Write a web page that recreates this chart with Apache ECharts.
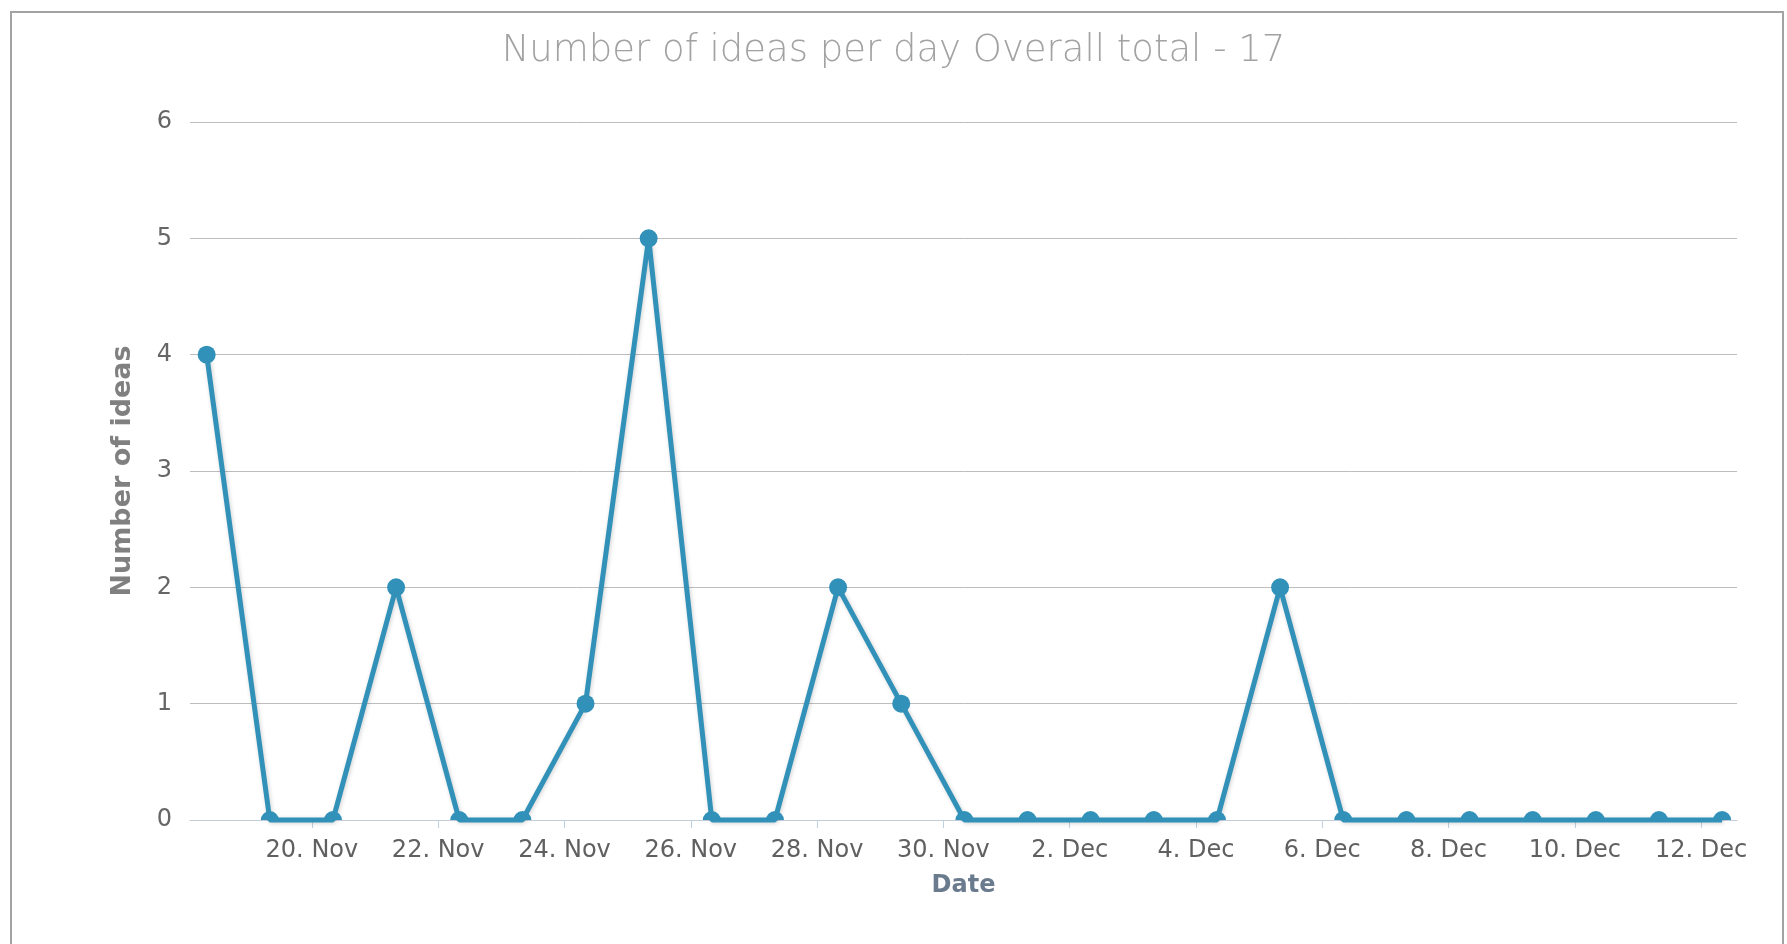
<!DOCTYPE html>
<html>
<head>
<meta charset="utf-8">
<script src="https://cdn.jsdelivr.net/npm/echarts@6/dist/echarts.min.js"></script>
<style>
html,body{margin:0;padding:0;background:#fff;}
#chart{width:1787px;height:944px;}
</style>
</head>
<body>
<div id="chart"></div>
<script>
// ---- data ----
const titleText = 'Number of ideas per day Overall total - 17';
const dates = ['2013-11-18','2013-11-19','2013-11-20','2013-11-21','2013-11-22','2013-11-23','2013-11-24',
  '2013-11-25','2013-11-26','2013-11-27','2013-11-28','2013-11-29','2013-11-30','2013-12-01','2013-12-02',
  '2013-12-03','2013-12-04','2013-12-05','2013-12-06','2013-12-07','2013-12-08','2013-12-09','2013-12-10',
  '2013-12-11','2013-12-12'];
const pointHour = '08:00';
const ideas = [4,0,0,2,0,0,1,5,0,0,2,1,0,0,0,0,0,2,0,0,0,0,0,0,0];
const tickDates = ['2013-11-20','2013-11-22','2013-11-24','2013-11-26','2013-11-28','2013-11-30',
  '2013-12-02','2013-12-04','2013-12-06','2013-12-08','2013-12-10','2013-12-12'];
const tickLabels = ['20. Nov','22. Nov','24. Nov','26. Nov','28. Nov','30. Nov',
  '2. Dec','4. Dec','6. Dec','8. Dec','10. Dec','12. Dec'];
const yTicks = [0,1,2,3,4,5,6];
const axisMinTime = '2013-11-18T01:40:00Z';
const axisMaxTime = '2013-12-12T13:40:00Z';

// ---- build ----
const ts = s => Date.parse(s);
const tickTs = tickDates.map(d => ts(d + 'T00:00:00Z'));
const halfCircle = 'path://M0,10A10,10,0,0,1,20,10Z';
const seriesData = dates.map((d, i) => {
  const item = { value: [ts(d + 'T' + pointHour + ':00Z'), ideas[i]] };
  if (ideas[i] === 0) {
    item.symbol = halfCircle;
    item.symbolSize = [18, 9];
    item.symbolOffset = [0, '-50%'];
  }
  return item;
});

const chart = echarts.init(document.getElementById('chart'), null, {renderer: 'canvas'});
chart.setOption({
  animation: false,
  backgroundColor: '#ffffff',
  graphic: [{
    type: 'rect',
    shape: {x: 11, y: 12, width: 1772, height: 960},
    style: {fill: 'none', stroke: '#a3a3a3', lineWidth: 2},
    silent: true,
    z: -1
  }],
  title: {
    text: titleText,
    left: 'center',
    top: 28,
    textStyle: {
      fontFamily: 'DejaVu Sans',
      fontWeight: 200,
      fontSize: 37,
      color: '#a2a2a2'
    }
  },
  grid: {left: 190, right: 50, top: 122, bottom: 124, containLabel: false},
  xAxis: {
    type: 'value',
    min: ts(axisMinTime),
    max: ts(axisMaxTime),
    name: 'Date',
    nameLocation: 'middle',
    nameGap: 54,
    nameTextStyle: {fontFamily: 'DejaVu Sans', fontWeight: 'bold', fontSize: 24, color: '#6a7b8e'},
    axisLine: {show: true, lineStyle: {color: '#c0ccd8', width: 1}},
    axisTick: {show: true, customValues: tickTs, length: 8, lineStyle: {color: '#c0d0e0'}},
    axisLabel: {
      customValues: tickTs,
      margin: 19,
      fontFamily: 'DejaVu Sans',
      fontSize: 24,
      color: '#606060',
      formatter: v => {
        const k = tickTs.indexOf(v);
        return k >= 0 ? tickLabels[k] : '';
      }
    },
    splitLine: {show: false}
  },
  yAxis: {
    type: 'value',
    min: yTicks[0],
    max: yTicks[yTicks.length - 1],
    interval: 1,
    name: 'Number of ideas',
    nameLocation: 'middle',
    nameGap: 54,
    nameTextStyle: {fontFamily: 'DejaVu Sans', fontWeight: 'bold', fontSize: 27, color: '#808080'},
    axisLine: {show: false},
    axisTick: {show: false},
    axisLabel: {margin: 18, fontFamily: 'DejaVu Sans', fontSize: 24, color: '#666666'},
    splitLine: {lineStyle: {color: '#bdbdbd', width: 1}}
  },
  series: [{
    type: 'line',
    data: seriesData,
    symbol: 'circle',
    symbolSize: 18,
    showAllSymbol: true,
    clip: false,
    lineStyle: {
      color: '#3191b8',
      width: 5,
      shadowColor: 'rgba(0,0,0,0.18)',
      shadowBlur: 4,
      shadowOffsetX: 1,
      shadowOffsetY: 1
    },
    itemStyle: {color: '#3191b8'},
    z: 3
  }]
});
</script>
</body>
</html>
